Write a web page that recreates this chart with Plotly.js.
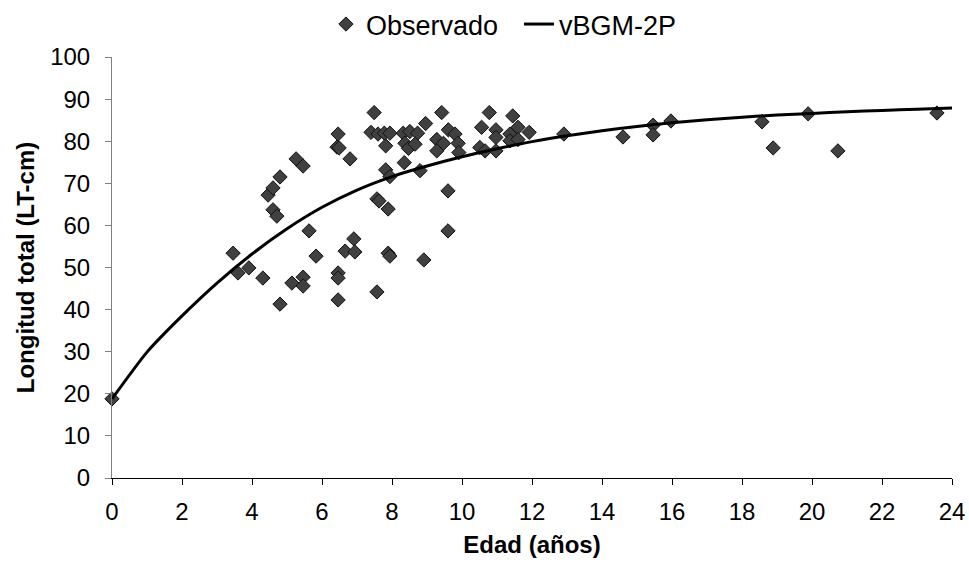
<!DOCTYPE html>
<html>
<head>
<meta charset="utf-8">
<script src="https://cdn.plot.ly/plotly-3.0.1.min.js"></script>
<style>
html,body{margin:0;padding:0;background:#fff;}
#chart{width:969px;height:565px;}
</style>
</head>
<body>
<div id="chart"></div>
<script>
// Observed ages (years) and total lengths (cm)
const obsEdad = [
  0, 3.46, 3.6, 3.91, 4.31, 4.46, 4.6, 4.6, 4.71, 4.8, 4.8, 5.14, 5.26, 5.46, 5.46, 5.46, 5.63, 5.83,
  6.46, 6.43, 6.49, 6.46, 6.46, 6.46, 6.66, 6.8, 6.91, 6.94, 7.57, 7.57, 7.63, 7.89, 7.89, 7.94, 8.91,
  9.6, 9.6,
  7.49, 9.42, 8.96, 7.40, 7.60, 7.78, 7.94, 7.82, 8.32, 8.51, 8.73, 8.37, 8.47, 8.66, 9.28, 9.61, 9.80,
  9.47, 9.28, 9.89, 9.91, 8.35, 7.82, 7.94, 8.80,
  10.78, 11.45, 10.56, 10.97, 11.60, 11.92, 11.37, 10.97, 11.37, 11.60, 10.51, 10.66, 10.97, 12.91,
  14.6, 15.46, 15.46, 15.97, 18.57, 18.89, 19.89, 20.74, 23.57
];
const obsLongitud = [
  18.8, 53.4, 48.7, 49.9, 47.5, 67.2, 68.9, 63.7, 62.2, 71.5, 41.3, 46.3, 75.8, 74.1, 47.7, 45.6, 58.7, 52.7,
  81.7, 78.6, 78.4, 48.7, 47.5, 42.3, 53.9, 75.8, 56.8, 53.7, 44.2, 66.3, 65.8, 63.9, 53.4, 52.7, 51.8,
  68.2, 58.7,
  86.8, 86.8, 84.2, 82.1, 81.7, 81.9, 81.9, 78.9, 81.9, 82.3, 81.9, 79.5, 78.3, 79.3, 80.4, 82.7, 81.7,
  79.5, 77.7, 79.5, 77.3, 74.9, 73.2, 71.6, 73.0,
  86.8, 86.0, 83.3, 82.7, 83.3, 82.1, 81.7, 80.9, 80.1, 80.4, 78.5, 77.7, 77.7, 81.7,
  81.0, 83.8, 81.5, 84.8, 84.6, 78.4, 86.5, 77.7, 86.7
];
// Fitted vBGM-2P curve
const modeloEdad = [0,1,2,3,4,5,6,7,8,9,10,11,12,13,14,15,16,17,18,19,20,21,22,23,24];
const modeloLongitud = [18.8,29.9,38.5,46.3,53.2,59.2,64.3,68.4,71.6,74.1,76.3,78.2,79.9,81.3,82.5,83.5,84.4,85.1,85.7,86.2,86.6,87.0,87.3,87.6,87.9];
const xTicks = [0,2,4,6,8,10,12,14,16,18,20,22,24];
const yTicks = [0,10,20,30,40,50,60,70,80,90,100];

const FONT = 'Liberation Sans, Arial, sans-serif';
const FS = 24;

const traces = [
  {
    x: obsEdad, y: obsLongitud, type: 'scatter', mode: 'markers', name: 'Observado',
    marker: {symbol: 'diamond', size: 11, color: '#404040', line: {color: '#111111', width: 1}},
    cliponaxis: false
  },
  {
    x: modeloEdad, y: modeloLongitud, type: 'scatter', mode: 'lines', name: 'vBGM-2P',
    line: {color: '#000000', width: 3, shape: 'spline', smoothing: 0.6},
    cliponaxis: false
  }
];

const layout = {
  width: 969, height: 565,
  margin: {l: 112, r: 17, t: 57, b: 87, autoexpand: false},
  paper_bgcolor: '#ffffff', plot_bgcolor: '#ffffff',
  font: {family: FONT, size: FS, color: '#000000'},
  showlegend: true,
  legend: {
    orientation: 'h', xref: 'container', yref: 'container',
    x: 0.3364, xanchor: 'left', y: 1, yanchor: 'top',
    font: {family: FONT, size: 27, color: '#000'},
    traceorder: 'normal', itemwidth: 30, bgcolor: 'rgba(0,0,0,0)',
    entrywidth: 148, entrywidthmode: 'pixels'
  },
  xaxis: {
    range: [0, 24], tickvals: xTicks, ticktext: xTicks.map(String),
    showgrid: false, zeroline: false, showline: true, linecolor: '#000', linewidth: 1,
    ticks: 'outside', ticklen: 6, tickcolor: '#000', tickwidth: 1,
    ticklabelstandoff: 6,
    tickfont: {family: FONT, size: FS, color: '#000'},
    title: {text: '<b>Edad (años)</b>', font: {family: FONT, size: FS, color: '#000'}, standoff: 12}
  },
  yaxis: {
    range: [0, 100], tickvals: yTicks, ticktext: yTicks.map(String),
    showgrid: false, zeroline: false, showline: true, linecolor: '#808080', linewidth: 1,
    ticks: 'outside', ticklen: 6, tickcolor: '#808080', tickwidth: 1,
    ticklabelstandoff: 10,
    tickfont: {family: FONT, size: FS, color: '#000'},
    title: {text: '<b>Longitud total (LT-cm)</b>', font: {family: FONT, size: FS, color: '#000'}, standoff: 8}
  }
};

Plotly.newPlot('chart', traces, layout, {displayModeBar: false, staticPlot: true});
</script>
</body>
</html>
